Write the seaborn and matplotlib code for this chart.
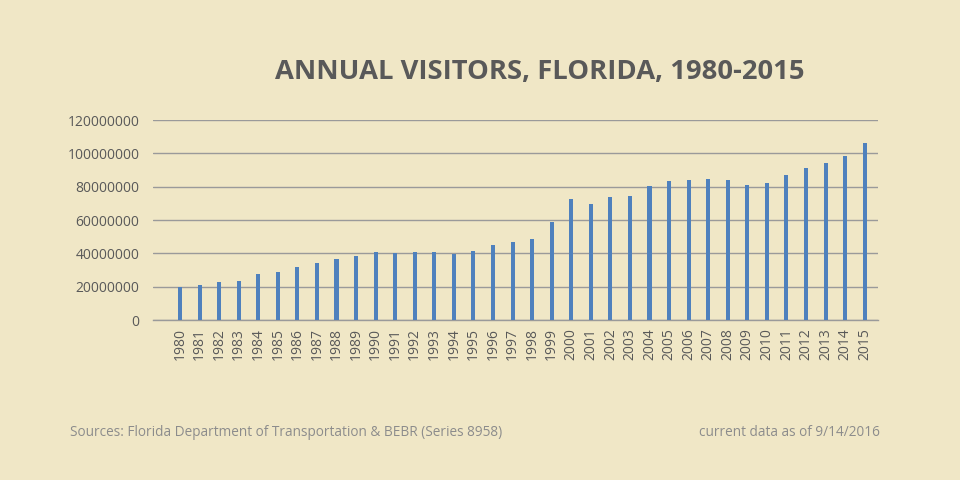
import pandas as pd
import matplotlib.pyplot as plt
import seaborn as sns

# -----------------------------
# Data
# -----------------------------
years = [str(y) for y in range(1980, 2016)]
visitors_m = [
    20.0, 21.2, 23.0, 23.6, 27.8, 29.0, 32.0, 34.4, 36.8, 38.6,
    41.0, 40.0, 41.0, 41.0, 39.8, 41.6, 45.2, 47.0, 48.8, 59.0,
    72.8, 69.8, 74.0, 74.6, 80.2, 83.6, 84.2, 84.8, 84.2, 81.2,
    82.4, 87.2, 91.4, 94.4, 98.6, 106.4,
]
y_ticks = [0, 20000000, 40000000, 60000000, 80000000, 100000000, 120000000]

df = pd.DataFrame({"Year": years, "Visitors": [v * 1e6 for v in visitors_m]})

# -----------------------------
# Style
# -----------------------------
bg = "#F0E7C6"
sns.set_style("white")
plt.rcParams["font.family"] = ["Open Sans", "DejaVu Sans"]

fig = plt.figure(figsize=(9.6, 4.8), dpi=100, facecolor=bg)
ax = fig.add_axes([153.3 / 960, 160 / 480, (877.7 - 153.3) / 960, 200 / 480])
ax.set_facecolor(bg)

sns.barplot(data=df, x="Year", y="Visitors", color="#4F81BD",
            width=0.21, saturation=1, linewidth=0, ax=ax, zorder=3)

ax.set_xlim(-1.365, 35.665)
ax.set_ylim(0, 120000000)
ax.set_yticks(y_ticks)
ax.set_yticklabels([str(t) for t in y_ticks])
ax.yaxis.grid(True, color="#9A9A9A", linewidth=1.0, zorder=0)
ax.xaxis.grid(False)

for side in ["top", "right", "left"]:
    ax.spines[side].set_visible(False)
ax.spines["bottom"].set_color("#9A9A9A")
ax.spines["bottom"].set_linewidth(1.0)

ax.tick_params(axis="y", length=0, pad=10, labelsize=10, labelcolor="#595959")
ax.tick_params(axis="x", length=0, pad=6, labelsize=10, labelcolor="#595959",
               labelrotation=90)
ax.set_xlabel("")
ax.set_ylabel("")

# -----------------------------
# Titles / notes
# -----------------------------
fig.text(540 / 960, 1 - 72 / 480, "ANNUAL VISITORS, FLORIDA, 1980-2015",
         ha="center", va="center", fontsize=19.7, fontweight="bold",
         color="#595959")
fig.text(70 / 960, 1 - 433 / 480,
         "Sources: Florida Department of Transportation & BEBR (Series 8958)",
         ha="left", va="center", fontsize=9.8, color="#8C8C8C")
fig.text(880 / 960, 1 - 433 / 480, "current data as of 9/14/2016",
         ha="right", va="center", fontsize=9.8, color="#8C8C8C")

fig.savefig("out.png", dpi=100, facecolor=bg)
